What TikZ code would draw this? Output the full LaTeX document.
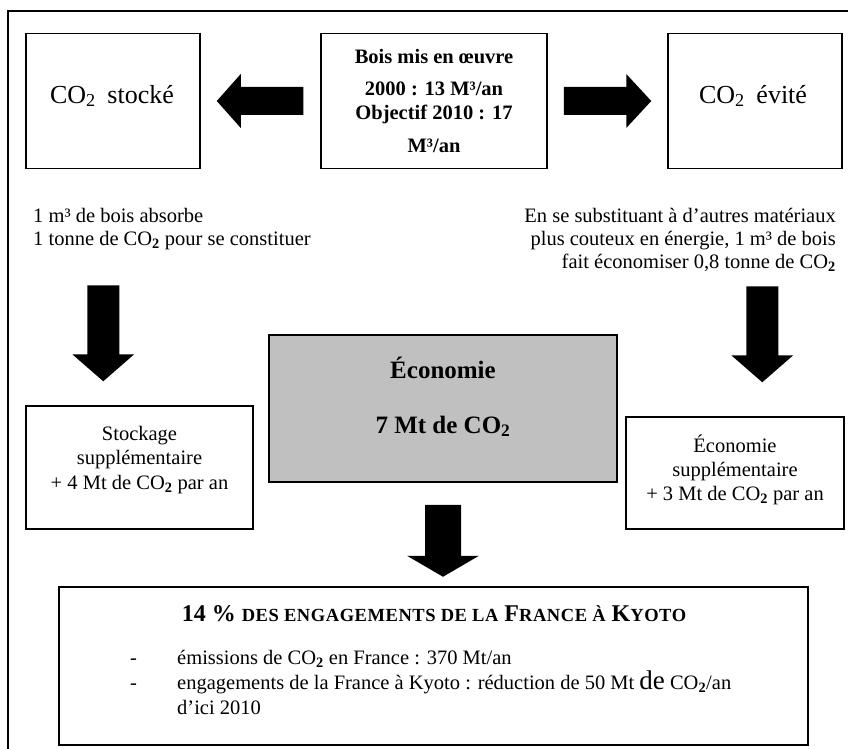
\documentclass[tikz,border=0pt]{standalone}
\usepackage{fontspec}
\setmainfont{Liberation Serif}
\usetikzlibrary{calc}
\definecolor{ecogray}{RGB}{192,192,192}
\newcommand\two{\textsubscript{\bfseries 2}}
\newcommand\smc[1]{{\fontsize{18.5}{20}\selectfont\addfontfeatures{LetterSpace=3}#1}}
% horizontal block arrow: start, tip, shaft half, head half, head length (signed)
\newcommand\harrow[5]{%
  \fill[black] ($(#1)+(0,#3)$) -- ($(#2)+(-#5,#3)$) -- ($(#2)+(-#5,#4)$) -- (#2)
    -- ($(#2)+(-#5,-#4)$) -- ($(#2)+(-#5,-#3)$) -- ($(#1)+(0,-#3)$) -- cycle;}
% vertical block arrow (pointing down in picture)
\newcommand\varrow[5]{%
  \fill[black] ($(#1)+(#3,0)$) -- ($(#2)+(#3,-#5)$) -- ($(#2)+(#4,-#5)$) -- (#2)
    -- ($(#2)+(-#4,-#5)$) -- ($(#2)+(-#3,-#5)$) -- ($(#1)+(-#3,0)$) -- cycle;}
\tikzset{
  box/.style={draw=black, line width=1.5pt, inner sep=0pt, fill=white},
  txt/.style={inner sep=0pt, font=\fontsize{20.5}{24}\selectfont},
  bigtxt/.style={inner sep=0pt, font=\fontsize{26}{30}\selectfont},
  boldtxt/.style={inner sep=0pt, font=\fontsize{20.5}{24}\selectfont\bfseries},
  ecotxt/.style={inner sep=0pt, font=\fontsize{25}{30}\selectfont\bfseries},
}
\begin{document}
\begin{tikzpicture}[x=1pt,y=-1pt]
\useasboundingbox (0,0) rectangle (848,749);
\fill[white] (0,0) rectangle (848,749);
% outer frame (open at right and bottom)
\draw[line width=1.3pt] (8,770) -- (8,11) -- (870,11);

% top row
\node[box, minimum width=174pt, minimum height=135pt] (stocke) at (113,101) {};
\node[bigtxt, anchor=base] (stocket) at (112,103) {CO\textsubscript{2}\hspace{0.45em}stocké};

\node[box, minimum width=226pt, minimum height=135pt] (bois) at (434,101) {};
\node[boldtxt, anchor=base] (bois1) at (434,64) {Bois mis en œuvre};
\node[boldtxt, anchor=base] (bois2) at (434,96) {2000 : 13 M³/an};
\node[boldtxt, anchor=base] (bois3) at (434,120) {Objectif 2010 : 17};
\node[boldtxt, anchor=base] (bois4) at (434,153) {M³/an};

\node[box, minimum width=174pt, minimum height=135pt] (evite) at (755,101) {};
\node[bigtxt, anchor=base] (evitet) at (753,103) {CO\textsubscript{2}\hspace{0.45em}évité};

% horizontal arrows
\coordinate (hls) at ($(bois.west)+(-17,0)$);
\coordinate (hlt) at ($(stocke.east)+(16,0)$);
\harrow{hls}{hlt}{14}{27}{-24}
\coordinate (hrs) at ($(bois.east)+(16,0)$);
\coordinate (hrt) at ($(evite.west)+(-16,0)$);
\harrow{hrs}{hrt}{14}{27}{25}

% explanatory texts
\node[txt, anchor=base west] (abs1) at (33,222) {1 m³ de bois absorbe};
\node[txt, anchor=base west] (abs2) at (33,245) {1 tonne de CO\two{} pour se constituer};
\node[txt, anchor=base east] (sub1) at (836,222) {En se substituant à d’autres matériaux};
\node[txt, anchor=base east] (sub2) at (836,245) {plus couteux en énergie, 1 m³ de bois};
\node[txt, anchor=base east] (sub3) at (836,268) {fait économiser 0,8 tonne de CO\two};

% middle row
\node[box, fill=ecogray, minimum width=348pt, minimum height=147pt] (eco) at (443,408.5) {};
\node[ecotxt, anchor=base] (eco1) at (443,378) {Économie};
\node[ecotxt, anchor=base] (eco2) at (443,433) {7 Mt de CO\two};

\node[box, minimum width=227pt, minimum height=123pt] (stock) at (139.5,467.5) {};
\node[txt, anchor=base] (stock1) at (139.5,440) {Stockage};
\node[txt, anchor=base] (stock2) at (139.5,464) {supplémentaire};
\node[txt, anchor=base] (stock3) at (139.5,489) {+ 4 Mt de CO\two{} par an};

\node[box, minimum width=218pt, minimum height=112pt] (ecosup) at (735,473) {};
\node[txt, anchor=base] (ecosup1) at (735,452) {Économie};
\node[txt, anchor=base] (ecosup2) at (735,476) {supplémentaire};
\node[txt, anchor=base] (ecosup3) at (735,500) {+ 3 Mt de CO\two{} par an};

% down arrows
\coordinate (dlt) at ($(stock.north west)+(78,-24)$);
\coordinate (dls) at ($(dlt)+(0,-96)$);
\varrow{dls}{dlt}{16}{31}{27}
\coordinate (drt) at ($(ecosup.north west)+(137,-34)$);
\coordinate (drs) at ($(drt)+(0,-96)$);
\varrow{drs}{drt}{16}{31}{27}

% Kyoto box
\node[box, minimum width=749pt, minimum height=158pt] (kyoto) at (433.5,666) {};
\coordinate (dms) at ($(eco.south)+(0,22)$);
\coordinate (dmt) at ($(eco.south)+(0,94)$);
\varrow{dms}{dmt}{18}{36}{21}

\node[inner sep=0pt, anchor=base, font=\fontsize{24}{26}\selectfont\bfseries] (kyt) at (434,621)
  {14 \% \smc{DES ENGAGEMENTS DE LA} F\smc{RANCE À} K\smc{YOTO}};
\node[txt, anchor=base west] (dash1) at (130,664) {-};
\node[txt, anchor=base west] (dash2) at (130,689) {-};
\node[txt, anchor=base west] (kl1) at (177,664) {émissions de CO\two{} en France : 370 Mt/an};
\node[txt, anchor=base west] (kl2) at (177,689) {engagements de la France à Kyoto : réduction de 50 Mt {\fontsize{27}{27}\selectfont de} CO\two/an};
\node[txt, anchor=base west] (kl3) at (177,714) {d’ici 2010};
\end{tikzpicture}
\end{document}
